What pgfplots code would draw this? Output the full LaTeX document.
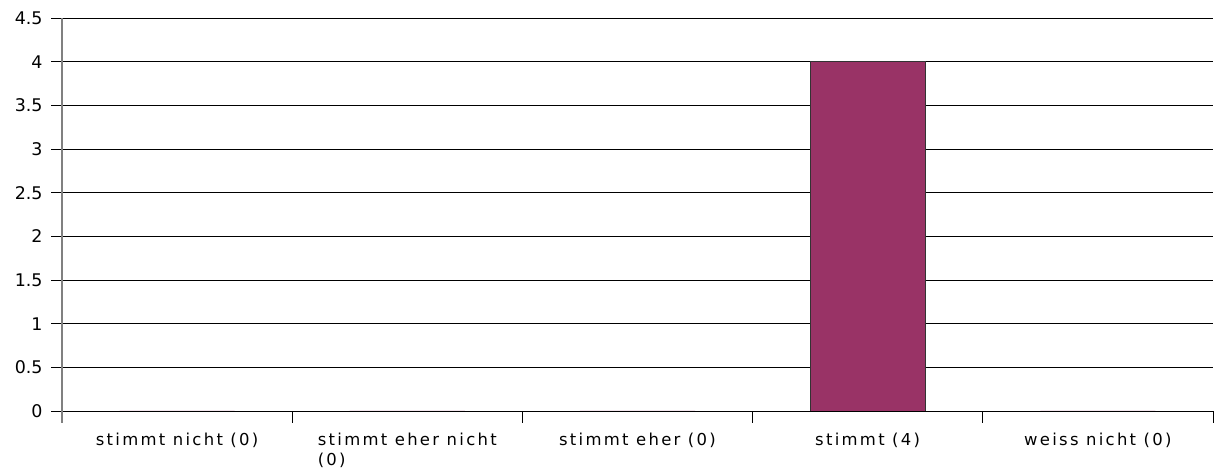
\documentclass[border=0pt]{standalone}
\usepackage{pgfplots}
\pgfplotsset{compat=1.18}
\usepackage{fontspec}
\setmainfont{DejaVu Sans}
\newfontfamily\spaced[LetterSpace=14]{DejaVu Sans}
\definecolor{barc}{HTML}{993366}
\definecolor{axg}{HTML}{808080}
\begin{document}
\begin{tikzpicture}[x=1bp,y=1bp]
\path[use as bounding box] (0,0) rectangle (1215,475);
\begin{axis}[
  at={(62bp,64bp)}, anchor=south west,
  scale only axis, width=1151bp, height=393bp,
  xmin=-0.5, xmax=4.5, ymin=0, ymax=4.5,
  ytick={0,0.5,...,4.5},
  /pgf/number format/fixed,
  /pgf/number format/precision=1,
  /pgf/number format/assume math mode=true,
  xtick={0,1,2,3,4},
  xticklabels={stimmt nicht (0),stimmt eher nicht\\(0),stimmt eher (0),stimmt (4),weiss nicht (0)},
  xticklabel style={align=left, yshift=-7bp, font=\spaced\fontsize{16.5}{21}\selectfont},
  minor xtick={-0.5,0.5,1.5,2.5,3.5,4.5},
  major x tick style={draw=none},
  minor x tick style={draw=black, line width=0.8pt},
  minor tick length=12bp,
  major tick length=11bp,
  tick align=outside,
  ytick style={draw=black, line width=0.6pt},
  xtick pos=bottom, ytick pos=left,
  ymajorgrids, grid style={black, line width=0.6pt},
  axis x line*=bottom, axis y line*=left,
  x axis line style={black, line width=0.8pt, -},
  y axis line style={axg, line width=1.2pt, -, shorten <=-12bp},
  yticklabel style={xshift=-5bp, font=\fontsize{17.5}{19}\selectfont},
  ybar, bar width=0.5,
]
\addplot[fill=barc, draw=black!80, line width=0.6pt] coordinates {(0,0) (1,0) (2,0) (3,4) (4,0)};
\end{axis}
\end{tikzpicture}
\end{document}
